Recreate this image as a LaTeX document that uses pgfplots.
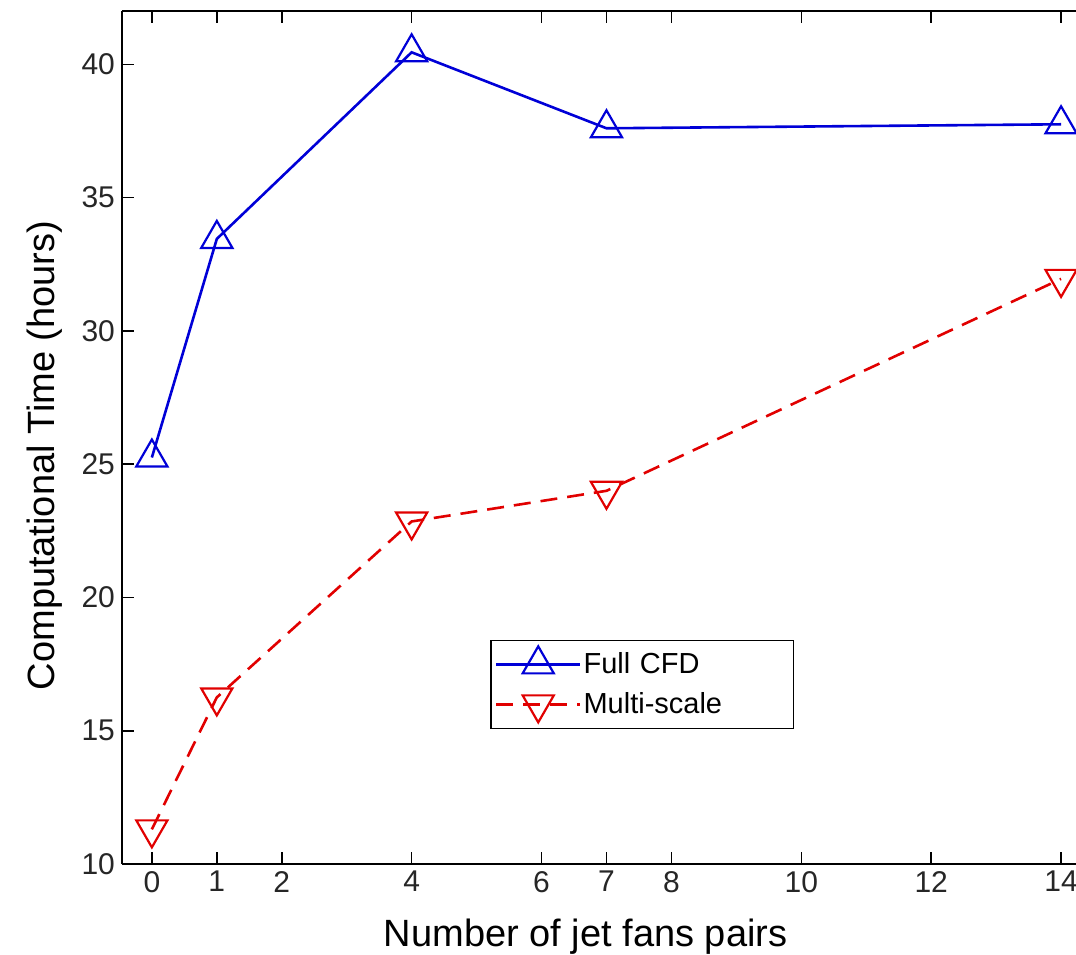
\documentclass[border=0pt]{standalone}
\usepackage{fontspec}
\setmainfont{Liberation Sans}
\usepackage{pgfplots}
\pgfplotsset{compat=1.18}
\begin{document}
\begin{tikzpicture}
\begin{axis}[
  at={(0,0)}, anchor=south west,
  scale only axis,
  width=477pt, height=426.5pt,
  xmin=-0.46, xmax=14.23,
  ymin=10, ymax=42,
  axis x line=box,
  axis y line*=left,
  axis line style={black, line width=0.8pt},
  xtick={0,1,2,4,6,7,8,10,12,14},
  ytick={10,15,20,25,30,35,40},
  tick align=inside,
  major tick length=6pt,
  tick style={black, line width=0.8pt},
  /pgf/number format/assume math mode=true,
  tick label style={font=\fontsize{15}{18}\selectfont, text=black!85},
  xlabel={Number of jet fans pairs},
  ylabel={Computational Time (hours)},
  label style={font=\fontsize{19}{23}\selectfont},
  xlabel style={at={(axis description cs:0.486,0)}, anchor=north, yshift=-24pt},
  ylabel style={at={(axis description cs:-0.0807,0.479)}, anchor=center},
  legend style={at={(0.386,0.263)}, anchor=north west, font=\fontsize{14.5}{17}\selectfont,
    draw=black, line width=0.7pt, inner xsep=2pt, inner ysep=3pt, row sep=4pt,
    nodes={text width=102pt, inner xsep=1pt}},
  legend image code/.code={
    \draw[mark repeat=2, mark phase=2] plot coordinates {(0pt,0pt) (21pt,0pt) (42pt,0pt)};
  },
  legend cell align=left,
  clip=false,
]
\addplot[color={rgb,255:red,0;green,0;blue,215}, line width=1.3pt, mark=triangle,
  mark size=9pt, mark options={solid, line width=1.1pt}]
  coordinates {(0,25.25) (1,33.45) (4,40.45) (7,37.6) (14,37.75)};
\addlegendentry{Full CFD}
\addplot[color={rgb,255:red,225;green,0;blue,0}, line width=1.3pt, dash pattern=on 8.5pt off 5pt,
  mark=triangle, mark size=9pt, mark options={solid, line width=1.1pt, rotate=180}]
  coordinates {(0,11.3) (1,16.25) (4,22.85) (7,24.0) (14,31.95)};
\addlegendentry{Multi-scale}
\end{axis}
\pgfresetboundingbox
\useasboundingbox (-61pt,-45pt) rectangle (477pt,432pt);
\end{tikzpicture}
\end{document}
